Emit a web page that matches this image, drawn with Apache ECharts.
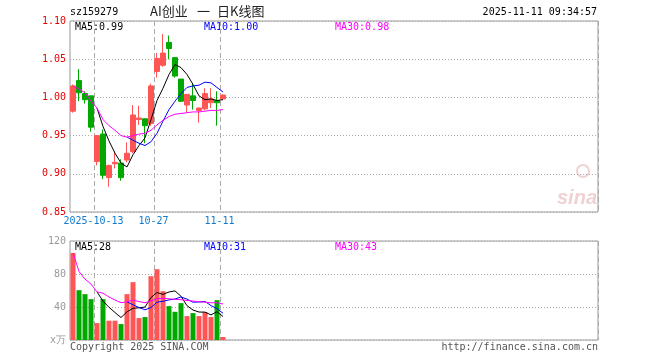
<!DOCTYPE html>
<html><head><meta charset="utf-8">
<script src="https://cdn.jsdelivr.net/npm/echarts@6/dist/echarts.min.js"></script>
<style>html,body{margin:0;padding:0;background:#fff}#c{width:660px;height:360px}</style>
</head><body><div id="c"></div>
<script>
// ---- data ----
const dates = ['2025-09-29','2025-09-30','2025-10-09','2025-10-10','2025-10-13','2025-10-14','2025-10-15','2025-10-16','2025-10-17',
  '2025-10-20','2025-10-21','2025-10-22','2025-10-23','2025-10-24','2025-10-27','2025-10-28','2025-10-29','2025-10-30','2025-10-31',
  '2025-11-03','2025-11-04','2025-11-05','2025-11-06','2025-11-07','2025-11-10','2025-11-11'];
const openP  = [0.982,1.022,1.005,1.002,0.916,0.952,0.895,0.913,0.914,0.918,0.929,0.971,0.972,0.966,1.034,1.042,1.072,1.052,1.024,0.990,1.002,0.983,0.985,0.993,0.996,0.998];
const closeP = [1.015,1.006,0.997,0.961,0.950,0.898,0.911,0.915,0.895,0.927,0.977,0.973,0.963,1.015,1.051,1.058,1.064,1.028,0.995,1.004,0.996,0.986,1.005,0.998,0.993,1.003];
const lowP   = [0.980,0.995,0.992,0.955,0.911,0.893,0.883,0.907,0.891,0.915,0.927,0.964,0.940,0.963,1.026,1.040,1.050,1.026,0.994,0.980,0.984,0.967,0.983,0.986,0.963,0.997];
const highP  = [1.017,1.037,1.008,1.002,0.950,0.958,0.912,0.929,0.919,0.941,0.990,0.989,0.972,1.018,1.058,1.083,1.081,1.053,1.024,1.004,1.018,0.987,1.012,1.012,1.008,1.004];
const volume = [105.5,60.4,55.6,49.5,20.5,49.5,23.4,23.4,19.3,55.6,70.1,26.6,27.8,77.3,85.8,59.2,41.1,34.2,44.7,29.0,32.6,29.0,33.8,27.8,48.3,3.6];
const ma5  = ['-','-','-','-',0.986,0.962,0.943,0.927,0.914,0.909,0.925,0.937,0.947,0.971,0.996,1.012,1.030,1.043,1.039,1.030,1.017,1.002,0.997,0.998,0.996,0.997];
const ma10 = ['-','-','-','-','-','-','-','-','-',0.948,0.944,0.940,0.937,0.942,0.953,0.969,0.984,0.995,1.005,1.013,1.015,1.016,1.020,1.019,1.013,1.007];
const ma30 = [1.015,1.011,1.006,0.995,0.986,0.971,0.963,0.957,0.950,0.948,0.950,0.952,0.953,0.957,0.964,0.970,0.975,0.978,0.979,0.980,0.981,0.981,0.982,0.983,0.983,0.984];
const volMa5  = ['-','-','-','-',58.3,47.1,39.7,33.3,27.2,34.2,38.4,39.0,39.9,51.5,57.5,55.3,58.2,59.5,53.0,41.6,36.3,33.9,33.8,30.4,34.3,28.5];
const volMa10 = ['-','-','-','-','-','-','-','-','-',46.3,42.7,39.4,36.6,39.4,45.9,46.9,48.6,49.7,52.2,49.6,45.8,46.1,46.7,41.7,38.0,32.4];
const volMa30 = [105.5,83.0,73.8,67.8,58.3,56.8,52.1,48.5,45.2,46.3,48.4,46.6,45.2,47.5,50.0,50.6,50.0,49.2,48.9,47.9,47.2,46.4,45.8,45.1,45.2,43.6];
const tickDates = ['2025-10-13','2025-10-27','2025-11-11'];
const tickTexts = ['2025-10-13','10-27','11-11'];
const priceTicks = {min:0.85, max:1.10, step:0.05};
const volTicks = {min:0, max:120, step:40};
const headerCode = 'sz159279';
const titleParts = ['AI创业','一','日K线图'];
const stamp = '2025-11-11 09:34:57';
const legendPrice = ['MA5:0.99','MA10:1.00','MA30:0.98'];
const legendVol = ['MA5:28','MA10:31','MA30:43'];

// ---- layout / style ----
const SLOTS = 88;
const cats = dates.concat(Array.from({length: SLOTS - dates.length}, (_, i) => 'pad' + i));
const tickIdx = tickDates.map(d => dates.indexOf(d));
const RED = '#ff5555', GREEN = '#00a800';
const MONO = '"DejaVu Sans Mono", "Liberation Mono", monospace';
const GL = {left:70, width:528};

const chart = echarts.init(document.getElementById('c'), null, {renderer:'canvas'});
const xBase = (gi, showLabel) => ({
  type:'category', gridIndex: gi, data: cats, boundaryGap: true,
  axisLine:{show:false}, axisTick:{show:false},
  axisLabel: showLabel ? {
    show:true, interval:(i)=>tickIdx.includes(i),
    formatter:(v)=>{const k = tickDates.indexOf(v); return k>=0 ? tickTexts[k] : '';},
    color:'#0e7bd0', fontFamily: MONO, fontSize:10, margin:4, padding:[0,7,0,0]
  } : {show:false},
  splitLine:{show:true, interval:(i)=>tickIdx.includes(i), lineStyle:{color:'#aaa', type:[5,3], width:1}}
});
const lineS = (data, color, xi, yi) => ({type:'line', data, xAxisIndex:xi, yAxisIndex:yi, symbol:'none', smooth:false,
  lineStyle:{color, width:1}, itemStyle:{color}, silent:true, z:5});
const txt = (x, y, text, color, extra) => Object.assign({type:'text', x, y, silent:true,
  style:Object.assign({text, fill:color, font:'10px ' + MONO, textVerticalAlign:'middle'}, extra||{})});

chart.setOption({
  animation:false,
  grid:[
    {left:GL.left, width:GL.width, top:21, height:191, show:true, borderColor:'#999', borderWidth:1, backgroundColor:'transparent'},
    {left:GL.left, width:GL.width, top:241, height:99, show:true, borderColor:'#999', borderWidth:1, backgroundColor:'transparent'}
  ],
  xAxis:[xBase(0,true), xBase(1,false)],
  yAxis:[
    {type:'value', gridIndex:0, min:priceTicks.min, max:priceTicks.max, interval:priceTicks.step,
     axisLine:{show:false}, axisTick:{show:false},
     axisLabel:{color:'#e60000', fontFamily:MONO, fontSize:10, margin:4, formatter:(v)=>v.toFixed(2)},
     splitLine:{show:true, lineStyle:{color:'#aaa', type:[1,2]}}},
    {type:'value', gridIndex:1, min:volTicks.min, max:volTicks.max, interval:volTicks.step,
     axisLine:{show:false}, axisTick:{show:false},
     axisLabel:{color:'#999', fontFamily:MONO, fontSize:10, margin:4, formatter:(v)=> v===0 ? 'x万' : String(v)},
     splitLine:{show:true, lineStyle:{color:'#aaa', type:[1,2]}}}
  ],
  series:[
    {type:'candlestick', xAxisIndex:0, yAxisIndex:0, barWidth:5,
     data: dates.map((d,i)=>[openP[i], closeP[i], lowP[i], highP[i]]),
     itemStyle:{color:RED, color0:GREEN, borderColor:RED, borderColor0:GREEN, borderWidth:1}},
    lineS(ma5,'#000000',0,0), lineS(ma10,'#0000ff',0,0), lineS(ma30,'#ff00ff',0,0),
    {type:'bar', xAxisIndex:1, yAxisIndex:1, barWidth:5,
     data: volume.map((v,i)=>({value:v, itemStyle:{color: closeP[i] >= openP[i] ? RED : GREEN}}))},
    lineS(volMa5,'#000000',1,1), lineS(volMa10,'#0000ff',1,1), lineS(volMa30,'#ff00ff',1,1)
  ],
  graphic:[
    txt(70, 12, headerCode, '#000'),
    txt(150, 11, titleParts[0], '#222', {font:'13px "Noto Sans CJK SC"'}),
    txt(197, 11, titleParts[1], '#222', {font:'13px "Noto Sans CJK SC"'}),
    txt(217, 11, titleParts[2], '#222', {font:'13px "Noto Sans CJK SC"'}),
    txt(597, 12, stamp, '#000', {textAlign:'right'}),
    txt(75, 27, legendPrice[0], '#000'),
    txt(204, 27, legendPrice[1], '#0000ff'),
    txt(335, 27, legendPrice[2], '#ff00ff'),
    txt(75, 247, legendVol[0], '#000'),
    txt(204, 247, legendVol[1], '#0000ff'),
    txt(335, 247, legendVol[2], '#ff00ff'),
    txt(70, 347, 'Copyright 2025 SINA.COM', '#555'),
    txt(598, 347, 'http://finance.sina.com.cn', '#555', {textAlign:'right'}),
    txt(557, 198, 'sina', 'rgba(200,90,90,0.28)', {font:'italic bold 20px "Liberation Sans"'}),
    {type:'circle', shape:{cx:583, cy:171, r:6}, silent:true, style:{fill:'none', stroke:'rgba(200,90,90,0.28)', lineWidth:2}}
  ]
});
</script></body></html>
